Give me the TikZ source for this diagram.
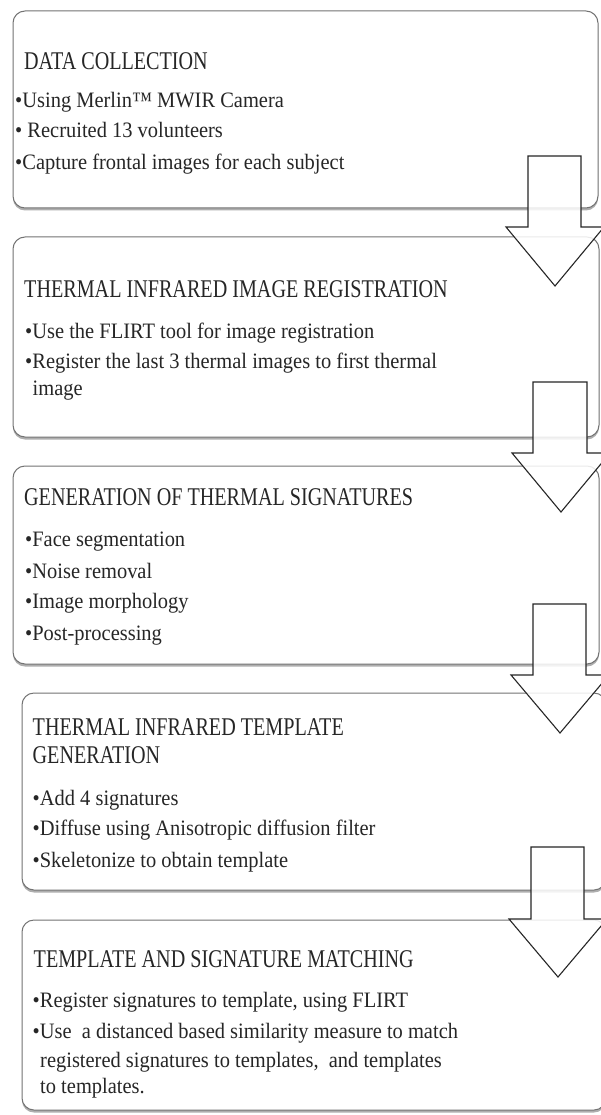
\documentclass[tikz,border=0pt]{standalone}
\usepackage{fontspec}
\setmainfont{Liberation Serif}[FakeStretch=0.93]
\newfontfamily\ttlfont{Liberation Serif}[FakeStretch=0.79]
\usetikzlibrary{shadows}
\begin{document}
\begin{tikzpicture}[x=1pt,y=-1pt,
  box/.style={draw=black!55, line width=1pt, rounded corners=12pt, fill=white,
    drop shadow={shadow xshift=0pt, shadow yshift=-2.5pt, opacity=0.45, fill=black!70},
    anchor=north west, inner sep=0pt, outer sep=0pt},
  ttl/.style={anchor=base west, inner sep=0pt, font=\ttlfont\fontsize{25.5}{28}\selectfont, text=black!85},
  bul/.style={anchor=base west, inner sep=0pt, font=\fontsize{22}{25}\selectfont, text=black!85},
  barrow/.style={draw=black!85, line width=1.1pt, fill=white, fill opacity=0.85, line join=miter}]
\useasboundingbox (0,0) rectangle (600,1115);
\fill[white] (0,0) rectangle (600,1115);

% boxes
\node[box, minimum width=585pt, minimum height=197pt] (box1) at (13,11) {};
\node[box, minimum width=586pt, minimum height=200pt] (box2) at (13,237) {};
\node[box, minimum width=586pt, minimum height=198pt] (box3) at (13,466) {};
\node[box, minimum width=584pt, minimum height=197pt] (box4) at (22,693) {};
\node[box, minimum width=584pt, minimum height=190pt] (box5) at (22,920) {};

% box 1
\node[ttl] (t1) at (24,70) {DATA COLLECTION};
\node[bul] (b1a) at (15,108) {•Using Merlin™ MWIR Camera};
\node[bul] (b1b) at (15,138) {• Recruited 13 volunteers};
\node[bul] (b1c) at (15,170) {•Capture frontal images for each subject};

% box 2
\node[ttl] (t2) at (24,297.5) {THERMAL INFRARED IMAGE REGISTRATION};
\node[bul] (b2a) at (25,338) {•Use the FLIRT tool for image registration};
\node[bul] (b2b) at (25,368) {•Register the last 3 thermal images to first thermal};
\node[bul] (b2c) at (32.5,395) {image};

% box 3
\node[ttl] (t3) at (24,505) {GENERATION OF THERMAL SIGNATURES};
\node[bul] (b3a) at (25,546.5) {•Face segmentation};
\node[bul] (b3b) at (25,578) {•Noise removal};
\node[bul] (b3c) at (25,608) {•Image morphology};
\node[bul] (b3d) at (25,640) {•Post-processing};

% box 4
\node[ttl] (t4a) at (32.5,735) {THERMAL INFRARED TEMPLATE};
\node[ttl] (t4b) at (32.5,763) {GENERATION};
\node[bul] (b4a) at (32.5,805) {•Add 4 signatures};
\node[bul] (b4b) at (32.5,835) {•Diffuse using Anisotropic diffusion filter};
\node[bul] (b4c) at (32.5,867) {•Skeletonize to obtain template};

% box 5
\node[ttl] (t5) at (33.5,967) {TEMPLATE AND SIGNATURE MATCHING};
\node[bul] (b5a) at (32.5,1007) {•Register signatures to template, using FLIRT};
\node[bul] (b5b) at (32.5,1038) {•Use\ \ a distanced based similarity measure to match};
\node[bul] (b5c) at (40,1067) {registered signatures to templates,\ \ and templates};
\node[bul] (b5d) at (40,1093) {to templates.};

% block arrows
\draw[barrow] (528,156) -- (581,156) -- (581,227) -- (604,227) -- (555,286) -- (506,227) -- (528,227) -- cycle;
\draw[barrow] (533,382) -- (587,382) -- (587,453) -- (610,453) -- (561,512) -- (512,453) -- (533,453) -- cycle;
\draw[barrow] (533,604) -- (586,604) -- (586,675) -- (609,675) -- (560,733) -- (511,675) -- (533,675) -- cycle;
\draw[barrow] (531,847) -- (584,847) -- (584,919) -- (607,919) -- (558,977) -- (509,919) -- (531,919) -- cycle;
\end{tikzpicture}
\end{document}
